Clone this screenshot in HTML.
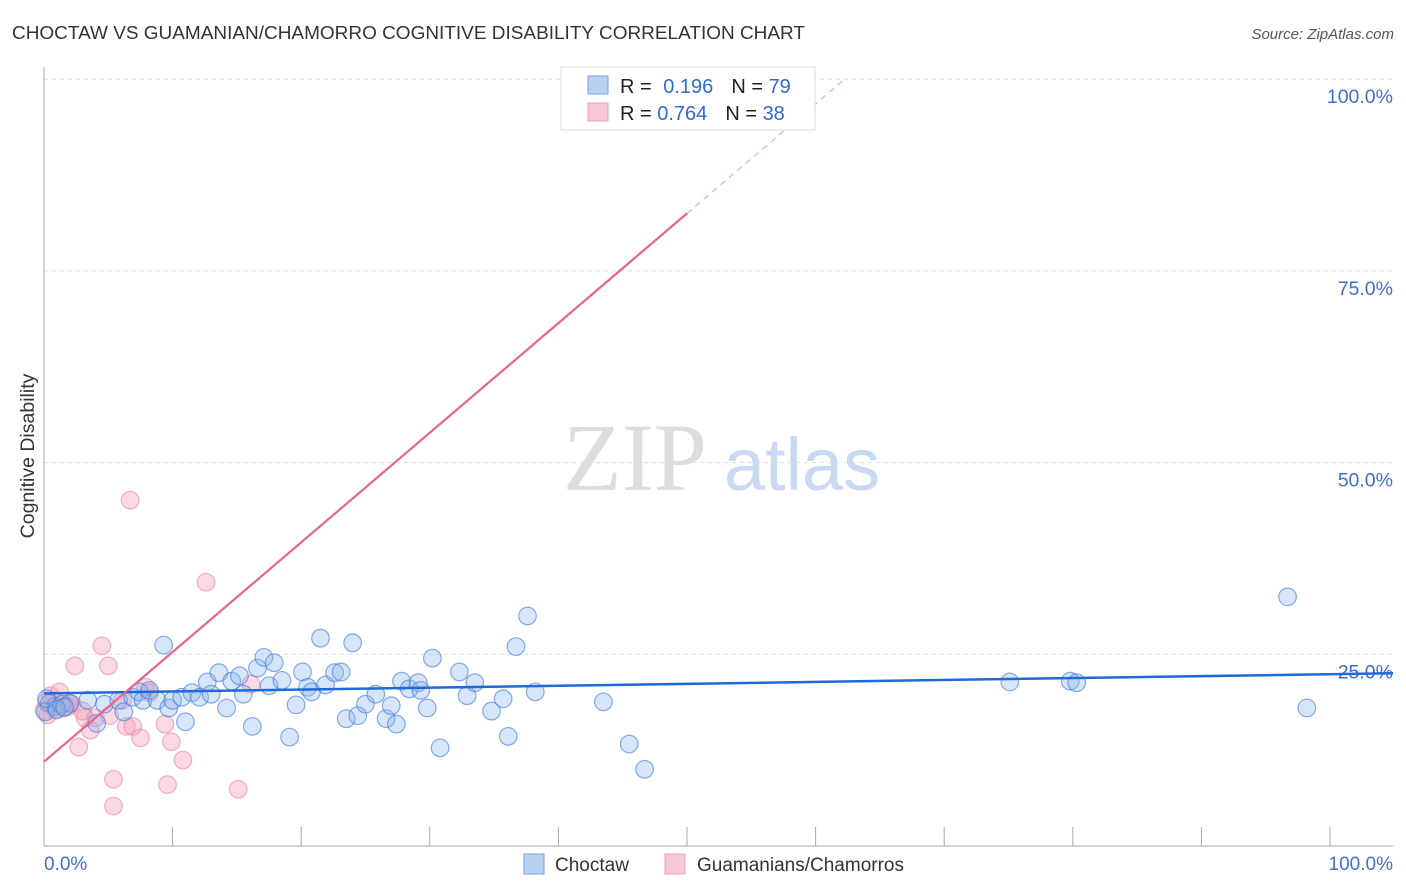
<!DOCTYPE html>
<html><head><meta charset="utf-8"><style>
body{margin:0;background:#fff;font-family:"Liberation Sans",sans-serif;}
#wrap{position:relative;width:1406px;height:892px;overflow:hidden;}
</style></head><body>
<div id="wrap">
<svg id="svg" width="1406" height="892" xmlns="http://www.w3.org/2000/svg">
<text x="12" y="39" font-size="18" fill="#333" textLength="793" lengthAdjust="spacingAndGlyphs">CHOCTAW VS GUAMANIAN/CHAMORRO COGNITIVE DISABILITY CORRELATION CHART</text>
<text x="1394" y="39" font-size="15" fill="#555" font-style="italic" text-anchor="end">Source: ZipAtlas.com</text>
<text transform="translate(34,456) rotate(-90)" font-size="19.5" fill="#333" text-anchor="middle">Cognitive Disability</text>
<g><text x="635" y="490" font-size="96" fill="#ddd" font-family="Liberation Serif" text-anchor="middle">ZIP</text><text x="802" y="490" font-size="74" fill="#c9d9f2" text-anchor="middle">atlas</text></g>
<g id="grid"></g><g id="axes"></g><g id="pts"></g><g id="lines"></g>
<g>
<rect x="561" y="67" width="254" height="63" fill="#fff" stroke="#ddd"/>
<rect x="588" y="76" width="20" height="18" fill="#b8d0f3" stroke="#7aa3e0"/>
<rect x="588" y="103" width="20" height="18" fill="#f9c6d5" stroke="#eea0b8"/>
<text x="620" y="93" font-size="20" fill="#222">R = <tspan fill="#2f6ad0" dx="6">0.196</tspan><tspan dx="18" fill="#222">N = </tspan><tspan fill="#2f6ad0">79</tspan></text>
<text x="620" y="120" font-size="20" fill="#222">R = <tspan fill="#2f6ad0">0.764</tspan><tspan dx="18" fill="#222">N = </tspan><tspan fill="#2f6ad0">38</tspan></text>
</g>
<g>
<rect x="524" y="854" width="20" height="20" fill="#b8d0f3" stroke="#7aa3e0"/>
<text x="555" y="871" font-size="19" fill="#333">Choctaw</text>
<rect x="665" y="854" width="20" height="20" fill="#f9c6d5" stroke="#eea0b8"/>
<text x="697" y="871" font-size="19" fill="#333">Guamanians/Chamorros</text>
</g>
</svg></div>
<script>
const yTicks=[25,50,75,100];
const yTickLabels=["25.0%","50.0%","75.0%","100.0%"];
const xTicks=[0,10,20,30,40,50,60,70,80,90,100];
const blueX=[0.4,0.9,1.4,2.0,3.4,4.1,4.7,5.8,6.2,6.9,7.4,7.7,8.2,8.8,9.3,9.7,10.0,10.7,11.0,11.5,12.1,12.7,13.0,13.6,14.2,14.6,15.2,15.5,16.2,16.6,17.1,17.5,17.9,18.5,19.1,19.6,20.1,20.5,20.8,21.5,21.9,22.6,23.1,23.5,24.0,24.4,25.0,25.8,26.6,27.0,27.4,27.8,28.4,29.1,29.3,29.8,30.2,30.8,32.3,32.9,33.5,34.8,35.7,36.1,36.7,37.6,38.2,43.5,45.5,46.7,75.1,79.8,80.3,96.7,98.2,0.1,0.2,1.0,1.6];
const blueY=[18.6,18.2,18.5,18.6,19.0,16.0,18.5,19.0,17.5,19.4,20.1,19.0,20.3,19.0,26.2,18.0,19.0,19.4,16.2,20.0,19.4,21.4,19.8,22.6,18.0,21.5,22.2,19.8,15.6,23.2,24.6,20.9,23.9,21.6,14.2,18.4,22.7,20.7,20.1,27.1,21.0,22.6,22.7,16.6,26.5,17.0,18.5,19.8,16.6,18.3,15.9,21.5,20.5,21.3,20.3,18.0,24.5,12.8,22.7,19.6,21.3,17.6,19.2,14.3,26.0,30.0,20.1,18.8,13.3,10.0,21.4,21.5,21.3,32.5,18.0,17.5,19.2,17.8,18.1];
const pinkX=[0.5,0.9,1.2,1.7,2.2,2.4,2.7,3.2,3.6,4.0,4.5,5.0,5.1,5.4,5.4,6.1,6.4,6.9,7.5,7.9,8.2,9.4,9.6,9.9,10.8,12.6,6.7,15.1,16.1,47.9,0.0,0.3,1.5,2.0,0.8,3.0,1.9,0.2];
const pinkY=[19.6,17.7,20.1,18.3,18.5,23.5,12.9,16.7,15.1,16.7,26.1,23.5,17.0,8.7,5.2,19.0,15.6,15.6,14.1,20.7,20.0,15.9,8.0,13.6,11.2,34.4,45.1,7.4,21.1,100.0,17.7,17.1,18.0,18.6,18.9,17.6,18.2,18.8];
const blueFit=[19.9,22.4];
const pinkFit=[11.0,1.43];
const NS="http://www.w3.org/2000/svg";
const X=v=>44+v*12.86, Y=v=>846-v*7.668;
function mk(t,a,p){const e=document.createElementNS(NS,t);for(const k in a)e.setAttribute(k,a[k]);document.getElementById(p).appendChild(e);return e;}
yTicks.forEach((t,i)=>{
  const g=mk('line',{x1:44,x2:1393,y1:Y(t),y2:Y(t),stroke:'#ddd','stroke-dasharray':'4,4'},'grid');
  
  
  const l=mk('text',{x:1393,y:Y(t)+24,'font-size':19.5,fill:'#3d6fd1','text-anchor':'end'},'axes');
  l.textContent=yTickLabels[i];
  
  
});
mk('line',{x1:44,x2:44,y1:67,y2:846,stroke:'#aaa'},'axes');
mk('line',{x1:44,x2:1393,y1:846,y2:846,stroke:'#aaa'},'axes');
xTicks.forEach(t=>{
  const tk=mk('line',{x1:X(t),x2:X(t),y1:827,y2:846,stroke:'#aaa'},'axes');
  
  
});
const x0=mk('text',{x:44,y:870,'font-size':19,fill:'#3d6fd1'},'axes');x0.textContent='0.0%';


const x1=mk('text',{x:1393,y:870,'font-size':19,fill:'#3d6fd1','text-anchor':'end'},'axes');x1.textContent='100.0%';


pinkX.forEach((v,i)=>{
  const c=mk('circle',{cx:X(v),cy:Y(pinkY[i]),r:8.8,fill:'rgba(244,160,185,0.4)',stroke:'rgba(232,130,160,0.6)','stroke-width':1.2},'pts');
  
  
});
blueX.forEach((v,i)=>{
  const c=mk('circle',{cx:X(v),cy:Y(blueY[i]),r:8.8,fill:'rgba(140,180,235,0.35)',stroke:'rgba(60,120,220,0.6)','stroke-width':1.2},'pts');
  
  
});
const bl=mk('line',{x1:X(0),y1:Y(blueFit[0]),x2:1393,y2:Y(blueFit[0]+(blueFit[1]-blueFit[0])*(1393-44)/1286),stroke:'#1f6ad6','stroke-width':2.5},'lines');


const xs=50, xe=(100-pinkFit[0])/pinkFit[1];
const pl=mk('line',{x1:X(0),y1:Y(pinkFit[0]),x2:X(xs),y2:Y(pinkFit[0]+pinkFit[1]*xs),stroke:'#e8648e','stroke-width':2.2},'lines');


const pd=mk('line',{x1:X(xs),y1:Y(pinkFit[0]+pinkFit[1]*xs),x2:X(xe),y2:Y(100),stroke:'#f0a8be','stroke-width':1.2,'stroke-dasharray':'6,5'},'lines');


</script>
</body></html>
